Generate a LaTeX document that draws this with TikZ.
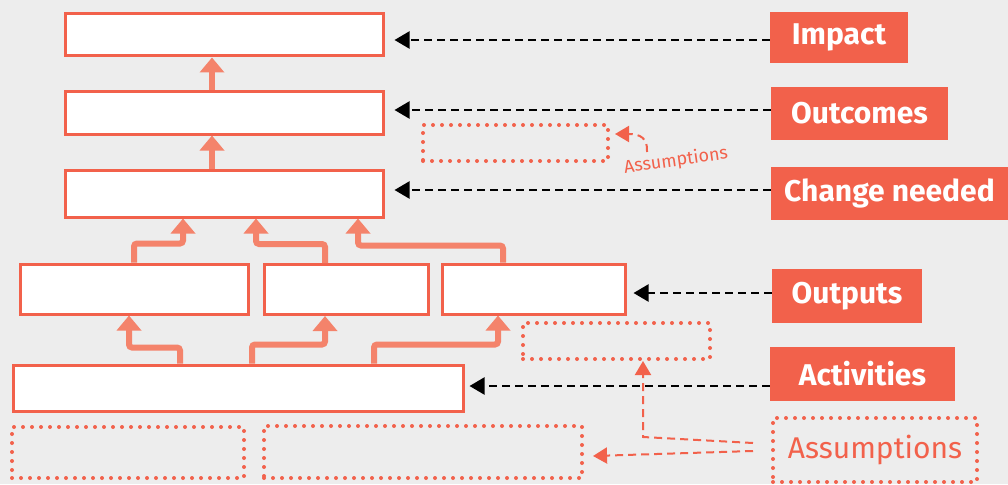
\documentclass[tikz,border=0pt]{standalone}
\usepackage{fontspec}
\setmainfont{Fira Sans}
\usetikzlibrary{arrows.meta,calc}
\definecolor{bg}{HTML}{EDEDED}
\definecolor{tomato}{HTML}{F2614B}
\definecolor{salmon}{HTML}{F4836B}
\begin{document}
\begin{tikzpicture}[x=1pt,y=-1pt,
  box/.style={draw=tomato,fill=white,line width=3pt,inner sep=0pt},
  dotbox/.style={draw=tomato,line width=4pt,dash pattern=on 0pt off 9pt,line cap=round,inner sep=0pt},
  lab/.style={fill=tomato,text=white,font=\bfseries\fontsize{30}{30}\selectfont,inner sep=0pt},
  oarrow/.style={draw=salmon,line width=6pt,rounded corners=3pt,-{Triangle[length=15pt,width=24pt]}},
  darrow/.style={draw=black,line width=2.2pt,dash pattern=on 8pt off 5pt,-{Triangle[length=15pt,width=17pt]}},
  aarrow/.style={draw=tomato,line width=2pt,dash pattern=on 8pt off 5pt,-{Triangle[length=14pt,width=16pt]}}
]
\useasboundingbox (0,0) rectangle (1008,484);
\fill[bg] (0,0) rectangle (1008,484);

% boxes
\node[box,minimum width=318pt,minimum height=42pt] (imp) at (224,35) {};
\node[box,minimum width=318pt,minimum height=42pt] (outc) at (224,113) {};
\node[box,minimum width=318pt,minimum height=47pt] (chg) at (224,193.5) {};
\node[box,minimum width=228pt,minimum height=50pt] (o1) at (134,289) {};
\node[box,minimum width=164pt,minimum height=50pt] (o2) at (346,289.5) {};
\node[box,minimum width=183pt,minimum height=50pt] (o3) at (533.5,289) {};
\node[box,minimum width=450pt,minimum height=46pt] (act) at (238,388) {};

% dotted boxes
\node[dotbox,minimum width=232pt,minimum height=51pt] (d1) at (128,452.5) {};
\node[dotbox,minimum width=318pt,minimum height=52pt] (d2) at (423,452) {};
\node[dotbox,minimum width=187pt,minimum height=36pt] (d3) at (616.5,341) {};
\node[dotbox,minimum width=185pt,minimum height=36pt] (d4) at (515.5,143) {};
\node[dotbox,minimum width=204pt,minimum height=64pt,text=tomato,font=\fontsize{30}{30}\selectfont] (asm) at (875,450) {Assumptions};

% labels
\node[lab,minimum width=138pt,minimum height=51pt] (impL) at (839,37.5) {Impact};
\node[lab,minimum width=177pt,minimum height=53pt] (outcL) at (859.5,113.5) {Outcomes};
\node[lab,minimum width=237pt,minimum height=53pt] (chgL) at (889.5,193.5) {Change needed};
\node[lab,minimum width=150pt,minimum height=54pt] (outpL) at (847,296) {Outputs};
\node[lab,minimum width=185pt,minimum height=54pt] (actL) at (862.5,374) {Activities};

% small assumptions
\node[text=tomato,font=\fontsize{18}{18}\selectfont,rotate=8,inner sep=0pt] (sasm) at (676,161) {Assumptions};
\coordinate (sstart) at (647,152);
\draw[aarrow] (sstart) .. controls (648,138) and (640,134) .. ([xshift=5pt]d4.east |- 0,134);

% dashed label arrows
\draw[darrow,shorten >=10pt] ([yshift=-2.5pt]impL.west) -- ([yshift=-2.5pt]impL.west -| imp.east);
\draw[darrow,shorten >=10pt] ([yshift=3.5pt]outcL.west) -- ([yshift=3.5pt]outcL.west -| outc.east);
\draw[darrow,shorten >=10pt] ([yshift=3.5pt]chgL.west) -- ([yshift=3.5pt]chgL.west -| chg.east);
\draw[darrow,shorten >=7pt] ([yshift=3pt]outpL.west) -- ([yshift=3pt]outpL.west -| o3.east);
\draw[darrow,shorten >=5pt] ([yshift=2pt]act.east -| actL.west) -- ([yshift=2pt]act.east);

% orange arrows
\draw[oarrow] ([xshift=-12pt]outc.north) -- ([xshift=-12pt]imp.south);
\draw[oarrow] ([xshift=-12pt]chg.north) -- ([xshift=-12pt]outc.south);
\draw[oarrow] (o1.north) -- ++(0,-19) -| ([xshift=-41pt]chg.south);
\draw[oarrow] ([xshift=-21pt]o2.north) -- ++(0,-19) -| ([xshift=32pt]chg.south);
\draw[oarrow] ([xshift=-30.5pt]o3.north) -- ++(0,-17) -| ([xshift=134pt]chg.south);
\draw[oarrow] ([xshift=-58pt]act.north) -- ++(0,-16) -| ([xshift=-5pt]o1.south);
\draw[oarrow] ([xshift=14pt]act.north) -- ++(0,-19) -| ([xshift=-21pt]o2.south);
\draw[oarrow] ([xshift=136pt]act.north) -- ++(0,-19) -| ([xshift=-35.5pt]o3.south);

% assumptions arrows
\coordinate (a1) at ([xshift=-18pt,yshift=7pt]asm.west);
\coordinate (a2) at ([xshift=-18pt,yshift=-1pt]asm.west);
\coordinate (bend) at (643,437);
\draw[aarrow] (a1) -- (bend) -- (bend |- d3.south);
\draw[aarrow] (a2) -- ([xshift=9pt,yshift=-4pt]d2.east);
\end{tikzpicture}
\end{document}
